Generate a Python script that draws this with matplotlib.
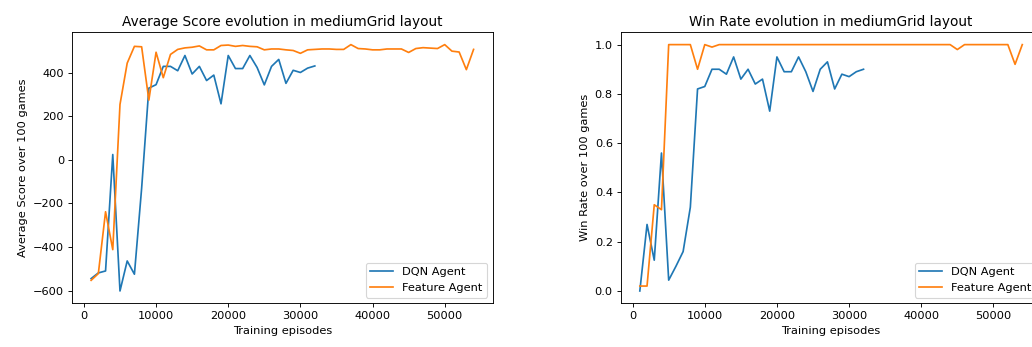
import matplotlib
matplotlib.use("Agg")
import matplotlib.pyplot as plt

# training episodes (every 1000)
dqn_episodes = list(range(1000, 33000, 1000))
feat_episodes = list(range(1000, 55000, 1000))

dqn_score = [-545, -519, -510, 25, -602, -464, -525, -130, 330, 346,
             430, 430, 410, 480, 395, 430, 365, 390, 258, 480,
             420, 420, 480, 425, 345, 430, 462, 352, 412, 402,
             422, 432]
feat_score = [-553, -522, -238, -412, 255, 445, 522, 520, 275, 495,
              378, 485, 508, 515, 518, 524, 506, 506, 526, 528,
              522, 526, 522, 520, 506, 510, 510, 506, 503, 490,
              506, 508, 510, 510, 508, 508, 530, 512, 510, 506,
              506, 510, 510, 510, 494, 512, 516, 514, 512, 530,
              500, 496, 415, 508]

dqn_win = [0.0, 0.27, 0.125, 0.56, 0.044, 0.10, 0.16, 0.34, 0.82, 0.83,
           0.90, 0.90, 0.88, 0.95, 0.86, 0.90, 0.84, 0.86, 0.73, 0.95,
           0.89, 0.89, 0.95, 0.89, 0.81, 0.90, 0.93, 0.82, 0.88, 0.87,
           0.89, 0.90]
feat_win = [0.02, 0.02, 0.35, 0.33, 1.0, 1.0, 1.0, 1.0, 0.90, 1.0,
            0.99, 1.0, 1.0, 1.0, 1.0, 1.0, 1.0, 1.0, 1.0, 1.0,
            1.0, 1.0, 1.0, 1.0, 1.0, 1.0, 1.0, 1.0, 1.0, 1.0,
            1.0, 1.0, 1.0, 1.0, 1.0, 1.0, 1.0, 1.0, 1.0, 1.0,
            1.0, 1.0, 1.0, 1.0, 0.98, 1.0, 1.0, 1.0, 1.0, 1.0,
            1.0, 1.0, 0.92, 1.0]

dpi = 81.5
fig = plt.figure(figsize=(1032 / dpi, 347 / dpi), dpi=dpi)

ax1 = fig.add_axes([72 / 1032, 43.7 / 347, 420.7 / 1032, 271 / 347])
ax2 = fig.add_axes([620.7 / 1032, 43.7 / 347, 420.7 / 1032, 271 / 347])

ax1.plot(dqn_episodes, dqn_score, label="DQN Agent")
ax1.plot(feat_episodes, feat_score, label="Feature Agent")
ax1.set_title("Average Score evolution in mediumGrid layout")
ax1.set_xlabel("Training episodes")
ax1.set_ylabel("Average Score over 100 games")
ax1.legend(loc="lower right")

ax2.plot(dqn_episodes, dqn_win, label="DQN Agent")
ax2.plot(feat_episodes, feat_win, label="Feature Agent")
ax2.set_title("Win Rate evolution in mediumGrid layout")
ax2.set_xlabel("Training episodes")
ax2.set_ylabel("Win Rate over 100 games")
ax2.legend(loc="lower right")

fig.savefig("out.png", dpi=dpi)
